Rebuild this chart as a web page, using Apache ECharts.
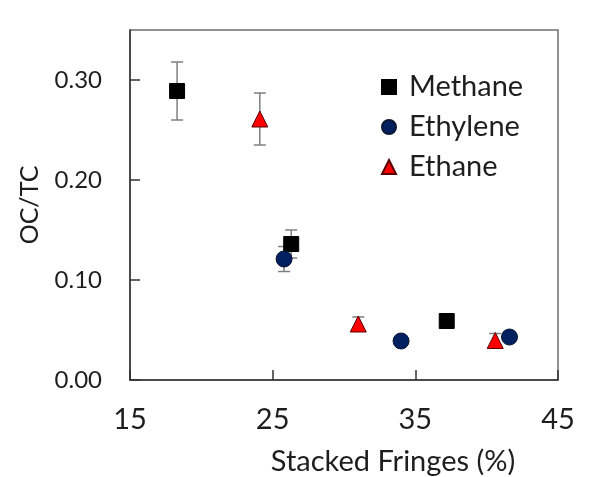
<!DOCTYPE html>
<html>
<head>
<meta charset="utf-8">
<script src="https://cdn.jsdelivr.net/npm/echarts@6/dist/echarts.min.js"></script>
<style>
  html, body { margin: 0; padding: 0; background: #fff; }
  #chart { width: 589px; height: 477px; }
</style>
</head>
<body>
<div id="chart"></div>
<script>
// Stacked fringe fraction (%) vs OC/TC ratio for three fuels, with ±1σ error bars
const seriesNames = ['Methane', 'Ethylene', 'Ethane'];

const methaneX = [18.3, 26.3, 37.2];
const methaneY = [0.289, 0.136, 0.059];
const methaneErr = [0.029, 0.014, 0.004];

const ethyleneX = [25.8, 34.0, 41.6];
const ethyleneY = [0.121, 0.039, 0.043];
const ethyleneErr = [0.0125, 0.004, 0.004];

const ethaneX = [24.1, 31.0, 40.6];
const ethaneY = [0.261, 0.056, 0.0395];
const ethaneErr = [0.026, 0.007, 0.007];

const xTicks = [15, 25, 35, 45];
const yTicks = [0.00, 0.10, 0.20, 0.30];

const FONT = 'Lato';
const TEXT = '#1e1e1e';

function points(xs, ys) { return xs.map((x, i) => [x, ys[i]]); }
function errRows(xs, ys, es) { return xs.map((x, i) => [x, ys[i], es[i]]); }

// vertical error bar with caps
function errorBarItem(params, api) {
  const x = api.value(0), y = api.value(1), e = api.value(2);
  const hi = api.coord([x, y + e]);
  const lo = api.coord([x, y - e]);
  const cap = 6;
  const style = { stroke: '#7f7f7f', lineWidth: 1.5 };
  return {
    type: 'group',
    children: [
      { type: 'line', shape: { x1: hi[0], y1: hi[1], x2: lo[0], y2: lo[1] }, style },
      { type: 'line', shape: { x1: hi[0] - cap, y1: hi[1], x2: hi[0] + cap, y2: hi[1] }, style },
      { type: 'line', shape: { x1: lo[0] - cap, y1: lo[1], x2: lo[0] + cap, y2: lo[1] }, style }
    ]
  };
}

function errSeries(rows) {
  return {
    type: 'custom', renderItem: errorBarItem, data: rows, z: 1, silent: true,
    encode: { x: 0, y: 1 }
  };
}

const chart = echarts.init(document.getElementById('chart'), null, { renderer: 'canvas' });

chart.setOption({
  animation: false,
  backgroundColor: '#fff',
  textStyle: { fontFamily: FONT, color: TEXT },
  grid: {
    left: 130, right: 31, top: 30, bottom: 97,
    outerBoundsMode: 'none', containLabel: false,
    show: true, borderColor: '#6e6e6e', borderWidth: 1.5, backgroundColor: 'transparent'
  },
  legend: {
    orient: 'vertical',
    left: 381, top: 72, padding: 0,
    itemWidth: 14, itemHeight: 14, itemGap: 10,
    data: seriesNames,
    textStyle: { fontFamily: FONT, fontSize: 29, color: TEXT, lineHeight: 30, padding: [0, 0, 0, 8] }
  },
  xAxis: {
    type: 'value', min: xTicks[0], max: xTicks[xTicks.length - 1], interval: 10,
    name: 'Stacked Fringes (%)', nameLocation: 'middle', nameGap: 67,
    nameTextStyle: { fontFamily: FONT, fontSize: 29, color: TEXT, padding: [0, 0, 0, 98] },
    axisLine: { show: true, lineStyle: { color: '#333', width: 1.5 } },
    axisTick: { show: true, inside: true, length: 10, lineStyle: { color: '#333', width: 1.5 } },
    axisLabel: { fontFamily: FONT, fontSize: 29, color: TEXT, margin: 25 },
    splitLine: { show: false }
  },
  yAxis: {
    type: 'value', min: yTicks[0], max: 0.35, interval: 0.1,
    name: 'OC/TC', nameLocation: 'middle', nameGap: 88, nameRotate: 90,
    nameTextStyle: { fontFamily: FONT, fontSize: 25, color: TEXT },
    axisLine: { show: true, lineStyle: { color: '#333', width: 1.5 } },
    axisTick: { show: true, inside: true, length: 10, lineStyle: { color: '#333', width: 1.5 } },
    axisLabel: {
      fontFamily: FONT, fontSize: 24, color: TEXT, margin: 28, showMaxLabel: false,
      formatter: v => (yTicks.some(t => Math.abs(t - v) < 1e-9) ? v.toFixed(2) : '')
    },
    splitLine: { show: false }
  },
  series: [
    errSeries(errRows(methaneX, methaneY, methaneErr)),
    errSeries(errRows(ethyleneX, ethyleneY, ethyleneErr)),
    errSeries(errRows(ethaneX, ethaneY, ethaneErr)),
    {
      name: 'Methane', type: 'scatter', z: 3, symbol: 'rect', symbolSize: 15,
      itemStyle: { color: '#000', borderColor: '#000', borderWidth: 1, opacity: 1 },
      data: points(methaneX, methaneY)
    },
    {
      name: 'Ethylene', type: 'scatter', z: 3, symbol: 'circle', symbolSize: 16,
      itemStyle: { color: '#002060', borderColor: '#0b1630', borderWidth: 1, opacity: 1 },
      data: points(ethyleneX, ethyleneY)
    },
    {
      name: 'Ethane', type: 'scatter', z: 3, symbol: 'triangle', symbolSize: 16,
      itemStyle: { color: '#ff0000', borderColor: '#5a0000', borderWidth: 1, opacity: 1 },
      data: points(ethaneX, ethaneY)
    }
  ]
});
</script>
</body>
</html>
